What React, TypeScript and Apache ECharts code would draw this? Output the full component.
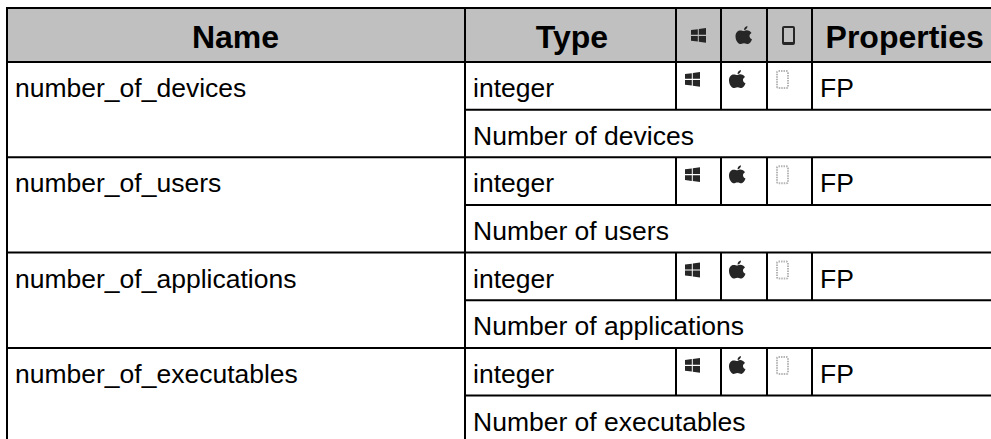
import React, { useEffect, useRef } from "react";
import * as echarts from "echarts";

const headers = ["Name", "Type", "Properties"];
const fieldNames = ["number_of_devices", "number_of_users", "number_of_applications", "number_of_executables"];
const fieldTypes = ["integer", "integer", "integer", "integer"];
const fieldProps = ["FP", "FP", "FP", "FP"];
const fieldDescs = ["Number of devices", "Number of users", "Number of applications", "Number of executables"];

const FONT = '"Liberation Sans", Arial, sans-serif';
const X = [7, 465, 676, 721, 767, 812];
const TOP = 8;
const HEAD = 62;
const ROW = 47.65;
const W = 991;
const H = 439;
const ICON = "#262626";

const APPLE =
  "M8.5 5 C10 4 12 3.8 14 5 C15 5.6 15.6 6.2 16 7 C14.5 8 14 9 14 10 C14 11.5 15 12.8 16.5 13.2 C15.8 15.5 14 18 12.5 18 C11 18 10.5 17.2 8.5 17.2 C6.5 17.2 6 18 4.5 18 C2.5 18 0 14 0 10.5 C0 7 2 4.5 4.5 4.5 C6 4.5 7.5 5 8.5 5 Z M8.5 4 C8.5 2 10 0.3 12 0 C12 2 10.5 4 8.5 4 Z";
const WINDOWS =
  "M0 2 L6.8 1.2 L6.8 6.8 L0 6.8 Z M7.8 1 L15 0 L15 6.8 L7.8 6.8 Z M0 8 L6.8 8 L6.8 13.6 L0 12.8 Z M7.8 8 L15 8 L15 14.8 L7.8 13.8 Z";
const TABLET =
  "M2 0 L11 0 Q13 0 13 2 L13 17 Q13 19 11 19 L2 19 Q0 19 0 17 L0 2 Q0 0 2 0 Z M2 2 L2 16 L11 16 L11 2 Z";

echarts.graphic.registerShape("winIcon", echarts.graphic.extendPath(WINDOWS, {}));
echarts.graphic.registerShape("appleIcon", echarts.graphic.extendPath(APPLE, {}));
echarts.graphic.registerShape("tabletIcon", echarts.graphic.extendPath(TABLET, {}));

function line(x1: number, y1: number, x2: number, y2: number) {
  return {
    type: "line",
    silent: true,
    shape: { x1, y1, x2, y2 },
    style: { stroke: "#000", lineWidth: 2 },
  };
}

function label(text: string, x: number, y: number, bold: boolean, align = "left") {
  return {
    type: "text",
    silent: true,
    x,
    y,
    style: {
      text,
      x: 0,
      y: 0,
      fill: "#000",
      font: `${bold ? "bold 32px" : "26.5px"} ${FONT}`,
      align,
      verticalAlign: "middle",
    },
  };
}

function buildGraphic() {
  const els: any[] = [];
  els.push({
    type: "rect",
    silent: true,
    shape: { x: X[0], y: TOP, width: W - X[0], height: HEAD - TOP },
    style: { fill: "#c0c0c0" },
  });
  // Horizontal rules
  els.push(line(X[0] - 1, TOP, W, TOP));
  els.push(line(X[0] - 1, HEAD, W, HEAD));
  fieldNames.forEach((_, i) => {
    const y0 = HEAD + i * 2 * ROW;
    els.push(line(X[1], y0 + ROW, W, y0 + ROW));
    if (i < fieldNames.length - 1) els.push(line(X[0] - 1, y0 + 2 * ROW, W, y0 + 2 * ROW));
  });
  // Vertical rules
  els.push(line(X[0], TOP, X[0], H));
  els.push(line(X[1], TOP, X[1], H));
  for (let c = 2; c < X.length; c++) {
    els.push(line(X[c], TOP, X[c], HEAD));
    fieldNames.forEach((_, i) => {
      const y0 = HEAD + i * 2 * ROW;
      els.push(line(X[c], y0, X[c], y0 + ROW));
    });
  }
  // Header
  els.push(label(headers[0], 235.5, 37, true, "center"));
  els.push(label(headers[1], 572, 37, true, "center"));
  els.push(label(headers[2], 904.7, 37, true, "center"));
  els.push({ type: "winIcon", silent: true, x: 691, y: 28, style: { fill: ICON } });
  els.push({ type: "appleIcon", silent: true, x: 735.5, y: 26, style: { fill: ICON } });
  els.push({ type: "tabletIcon", silent: true, x: 782, y: 26, style: { fill: ICON } });
  // Rows
  fieldNames.forEach((name, i) => {
    const y0 = HEAD + i * 2 * ROW;
    const textY = y0 + 25.5 + 0.3 * i;
    els.push(label(name, 15, textY, false));
    els.push(label(fieldTypes[i], 473, textY, false));
    els.push(label(fieldProps[i], 820, textY, false));
    els.push(label(fieldDescs[i], 473, y0 + ROW + 26, false));
    els.push({ type: "winIcon", silent: true, x: 685, y: y0 + 10, style: { fill: ICON } });
    els.push({ type: "appleIcon", silent: true, x: 729, y: y0 + 8, style: { fill: ICON } });
    els.push({
      type: "rect",
      silent: true,
      shape: { x: 777, y: y0 + 9, width: 11, height: 17, r: 1.5 },
      style: { fill: "#fff", stroke: "#b5b5b5", lineWidth: 2, lineDash: [1.5, 1] },
    });
  });
  return els;
}

export default function App() {
  const ref = useRef<HTMLDivElement>(null);
  useEffect(() => {
    document.body.style.margin = "0";
    const chart = echarts.init(ref.current!, undefined, { renderer: "svg" });
    chart.setOption({
      animation: false,
      backgroundColor: "#ffffff",
      graphic: { elements: buildGraphic() },
    });
    return () => chart.dispose();
  }, []);
  return <div ref={ref} style={{ width: W, height: H }} />;
}
